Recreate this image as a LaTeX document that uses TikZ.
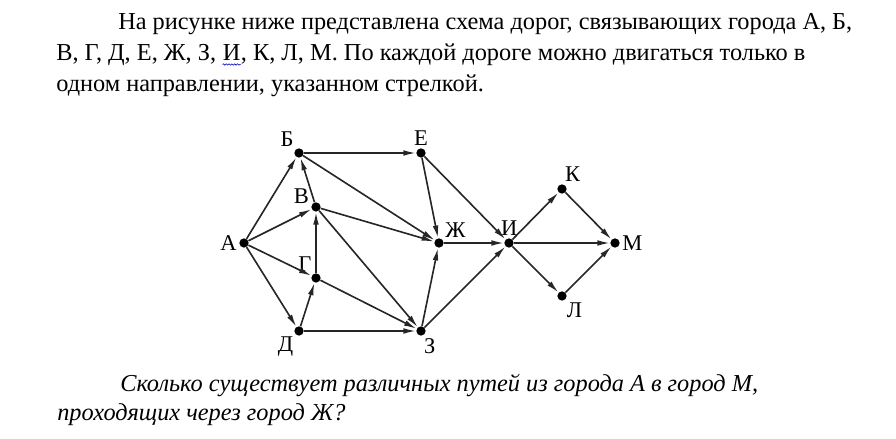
\documentclass[tikz,border=0pt]{standalone}
\usepackage{fontspec}
\setmainfont{Liberation Serif}
\usetikzlibrary{arrows.meta,decorations.pathmorphing}

\begin{document}
\begin{tikzpicture}[x=0.025cm,y=0.025cm,
    city/.style={circle,fill=black,inner sep=0pt,minimum size=6.6pt},
    road/.style={line width=1.15pt,draw=black!85,-{Latex[length=9pt,width=4pt]}},
    txt/.style={anchor=base west,inner sep=0pt,font=\fontsize{17.3}{20}\selectfont},
    wavy/.style={draw=blue!70!black,line width=0.4pt,decorate,
        decoration={snake,amplitude=0.5pt,segment length=2pt}},
    every label/.style={font=\fontsize{16}{18}\selectfont,inner sep=1.5pt},
    label distance=0pt]
\useasboundingbox (0,0) rectangle (896,439);

% task text
\node[txt] (tLineA) at (118,409) {На рисунке ниже представлена схема дорог, связывающих города А, Б,};
\node[txt] (tLineB) at (56,378) {В, Г, Д, Е, Ж, З,\ \mbox{}};
\node[txt] (tWordI) at (tLineB.base east) {И};
\node[txt] (tLineBr) at (tWordI.base east) {, К, Л, М. По каждой дороге можно двигаться только в};
\draw[wavy] ([yshift=-2.5pt]tWordI.base west) -- ([yshift=-2.5pt]tWordI.base east);
\node[txt] (tLineC) at (56,347) {одном направлении, указанном стрелкой.};
\node[txt,font=\fontsize{17.3}{20}\selectfont\itshape] (tLineD) at (120,47) {Сколько существует различных путей из города А в город М,};
\node[txt,font=\fontsize{17.3}{20}\selectfont\itshape] (tLineE) at (57,18) {проходящих через город Ж?};

% cities
\foreach \v/\x/\y/\u/\t in
{   cAPt/244/196/180/А,
    cBPt/299/286/128/Б,
    cVPt/316/232/165/В,
    cGPt/316/161/118/Г,
    cDPt/299/108/228/Д,
    cEPt/421/286/90/Е,
    cZhPt/439/196/38/Ж,
    cZPt/421/108/278/З,
    cIPt/509/196/88/И,
    cKPt/562/250/82/К,
    cLPt/562/143/300/Л,
    cMPt/615/196/0/М}
{
    \node[city,label=\u:\t] (\v) at (\x,\y) {};
};

% roads
\foreach \a/\b in
{   cAPt/cBPt, cAPt/cVPt, cAPt/cGPt, cAPt/cDPt,
    cBPt/cEPt, cBPt/cZhPt,
    cVPt/cBPt, cVPt/cZhPt, cVPt/cZPt,
    cGPt/cVPt, cGPt/cZPt,
    cDPt/cGPt, cDPt/cZPt,
    cEPt/cZhPt, cEPt/cIPt,
    cZhPt/cIPt,
    cZPt/cZhPt, cZPt/cIPt,
    cIPt/cKPt, cIPt/cMPt, cIPt/cLPt,
    cKPt/cMPt, cLPt/cMPt}
{
    \draw[road] (\a) -- (\b);
};
\end{tikzpicture}
\end{document}
